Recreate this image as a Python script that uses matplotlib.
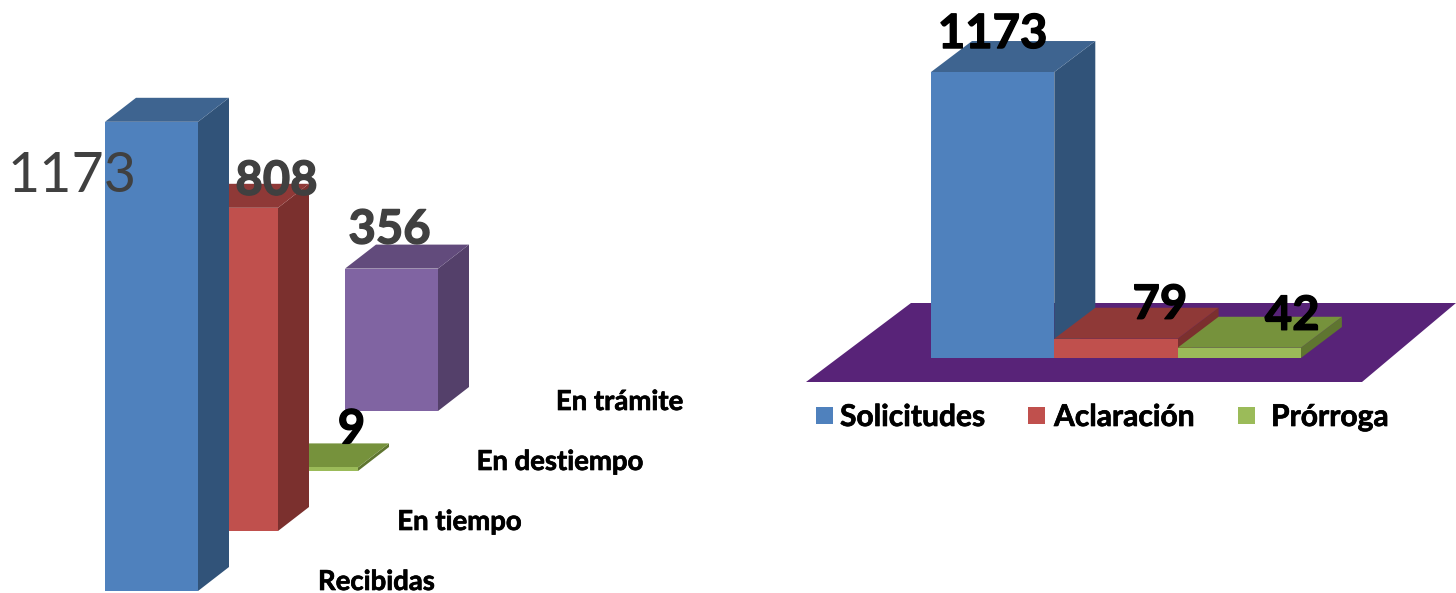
import matplotlib
matplotlib.use("Agg")
import matplotlib.pyplot as plt
import matplotlib.patheffects as pe
from matplotlib.patches import Polygon, Rectangle

plt.rcParams['font.family'] = ['Lato', 'DejaVu Sans']

# ---- data ----
left_categories = ["Recibidas", "En tiempo", "En destiempo", "En trámite"]
left_values = [1173, 808, 9, 356]
right_categories = ["Solicitudes", "Aclaración", "Prórroga"]
right_values = [1173, 79, 42]

# ---- colours ----
left_front = ["#4F81BD", "#C0504D", "#9BBB59", "#8064A2"]
left_top = ["#3E6490", "#8F3937", "#76923C", "#624B7C"]
left_side = ["#315379", "#7B302E", "#5F7530", "#54406A"]
right_front = ["#4F81BD", "#C0504D", "#9BBB59"]
right_top = ["#3E6490", "#8F3937", "#76923C"]
right_side = ["#315379", "#7B302E", "#5F7530"]
floor_colour = "#582378"
W, H = 1456, 593

fig = plt.figure(figsize=(W / 100, H / 100), dpi=100)


def box(ax, x, base, width, value, dx, dv, front, top, side, z):
    """Oblique 3-D box in data units."""
    v = base + value
    ax.add_patch(Rectangle((x, base), width, value, fc=front, ec="none", zorder=z + 0.3))
    ax.add_patch(Polygon([(x, v), (x + width, v), (x + width + dx, v + dv), (x + dx, v + dv)],
                         closed=True, fc=top, ec="none", zorder=z + 0.2))
    ax.add_patch(Polygon([(x + width, base), (x + width + dx, base + dv),
                          (x + width + dx, v + dv), (x + width, v)],
                         closed=True, fc=side, ec="none", zorder=z + 0.1))


def heavy(colour, lw):
    return [pe.withStroke(linewidth=lw, foreground=colour)]


# ---- left chart: one unit of x = one bar width, y in values ----
axL = fig.add_axes([0, 0, 0.5, 1])
L_PX_X, L_PX_Y = 93.0, 0.40
axL.set_xlim(-105 / L_PX_X, (728 - 105) / L_PX_X)
axL.set_ylim(-2 / L_PX_Y, 591 / L_PX_Y)
axL.axis("off")
step_x, step_v = 80 / L_PX_X, 60 / L_PX_Y
depth_x, depth_v = 31 / L_PX_X, 24 / L_PX_Y
n = len(left_values)
for i, val in enumerate(left_values):
    box(axL, i * step_x, i * step_v, 1.0, val, depth_x, depth_v,
        left_front[i], left_top[i], left_side[i], n - i)

# value labels (anchored to bars via pixel offsets)
lab_style = [dict(size=40, color="#404040", weight="normal"),
             dict(size=34, color="#404040", weight="bold", path_effects=heavy("#404040", 1.0)),
             dict(size=34, color="black", weight="bold", path_effects=heavy("black", 1.0)),
             dict(size=34, color="#404040", weight="bold", path_effects=heavy("#404040", 1.0))]
lab_off = [(-79, -55), (45, 27), (40, 38), (-2, 39)]
for i, val in enumerate(left_values):
    xc = i * step_x + 0.5 + lab_off[i][0] / L_PX_X
    yc = i * step_v + val + lab_off[i][1] / L_PX_Y
    axL.text(xc, yc, str(val), ha="center", va="center", zorder=20, **lab_style[i])

# category labels along the depth axis, left aligned
for i, name in enumerate(left_categories):
    xc = (318 - 105) / L_PX_X + i * (79.3 / L_PX_X)
    yc = (591 - 582) / L_PX_Y + i * step_v
    axL.text(xc, yc, name, ha="left", va="center", size=19.8, weight="bold",
             color="black", zorder=20, path_effects=heavy("black", 0.5))

# ---- right chart ----
axR = fig.add_axes([0.5, 0, 0.5, 1])
R_PX_X, R_PX_Y = 123.3, 0.2438
x0, y0 = 931 - 728, 593 - 358
axR.set_xlim(-x0 / R_PX_X, (728 - x0) / R_PX_X)
axR.set_ylim(-y0 / R_PX_Y, (593 - y0) / R_PX_Y)
axR.axis("off")
rdx, rdv = 41 / R_PX_X, 31 / R_PX_Y

# floor plane
fl_b = -24 / R_PX_Y
fl_t = 55 / R_PX_Y
axR.add_patch(Polygon([((806 - 931) / R_PX_X, fl_b), ((1362 - 931) / R_PX_X, fl_b),
                       ((1456 - 931) / R_PX_X, fl_t), ((911 - 931) / R_PX_X, fl_t)],
                      closed=True, fc=floor_colour, ec="none", zorder=0))
for i, val in enumerate(right_values):
    box(axR, i * 1.0, 0, 1.0, val, rdx, rdv, right_front[i], right_top[i], right_side[i], 1 + i)

r_px = [(0, 38), (44, 34), (53, 32)]
for i, val in enumerate(right_values):
    axR.text(i + 0.5 + r_px[i][0] / R_PX_X, val + r_px[i][1] / R_PX_Y, str(val),
             ha="center", va="center", size=34, weight="bold", color="black", zorder=20,
             path_effects=heavy("black", 1.0))

# legend
leg_sw = [816, 1028, 1238]
leg_tx = [840, 1054, 1271]
for i, name in enumerate(right_categories):
    axR.add_patch(Rectangle(((leg_sw[i] - 931) / R_PX_X, (358 - 424) / R_PX_Y),
                            17 / R_PX_X, 17 / R_PX_Y, fc=right_front[i], ec="none", zorder=5))
    axR.text((leg_tx[i] - 931) / R_PX_X, (358 - 417) / R_PX_Y, name, ha="left", va="center",
             size=21.6, weight="bold", color="black", zorder=5,
             path_effects=heavy("black", 0.5))

fig.savefig("out.png", dpi=100, facecolor="white")
